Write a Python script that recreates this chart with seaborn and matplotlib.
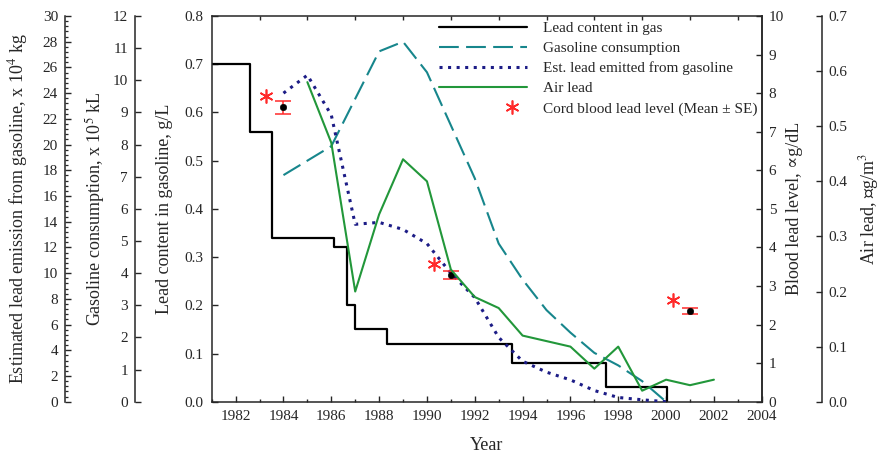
import matplotlib
matplotlib.use("Agg")
import matplotlib.pyplot as plt
import seaborn as sns
from matplotlib.lines import Line2D
from matplotlib.legend_handler import HandlerLine2D
from matplotlib.ticker import MultipleLocator, NullFormatter, FormatStrFormatter
from matplotlib.transforms import offset_copy

# --- Data ---
step_years = [1981, 1982.6, 1983.5, 1986.1, 1986.65, 1987.0, 1988.35, 1993.55, 1997.5, 2000.05]
lead_content = [0.70, 0.56, 0.34, 0.32, 0.20, 0.15, 0.12, 0.08, 0.03, 0.00]

gas_years = [1984, 1986, 1988, 1989, 1990, 1991, 1992, 1993, 1994, 1995, 1996, 1997, 1998, 1999, 2000]
gas_consumption = [7.05, 7.95, 10.9, 11.2, 10.25, 8.6, 6.95, 4.92, 3.8, 2.85, 2.15, 1.52, 1.13, 0.64, 0.0]

emis_years = list(range(1984, 2001))
lead_emission = [24.0, 25.4, 22.3, 13.8, 13.95, 13.4, 12.3, 10.0, 8.1, 5.0, 3.15,
                 2.3, 1.7, 0.87, 0.33, 0.15, 0.0]

air_years = list(range(1985, 2003))
air_lead = [0.58, 0.47, 0.20, 0.34, 0.44, 0.40, 0.24, 0.19, 0.17, 0.12, 0.11,
            0.10, 0.06, 0.10, 0.02, 0.04, 0.03, 0.04]

blood_years = [1984, 1991, 2001]
blood_mean = [7.63, 3.28, 2.35]
blood_se = [0.17, 0.10, 0.085]

BLACK, TEAL, NAVY, GREEN, RED = "black", "#17868c", "#1c1c86", "#22973a", "#ff2a2a"

sns.set_theme(style="ticks", rc={"axes.linewidth": 1.1, "mathtext.fontset": "stix"})
plt.rcParams["font.family"] = ["Liberation Serif", "DejaVu Serif"]

fig = plt.figure(figsize=(8.8, 4.55), dpi=100)
ax = fig.add_axes([0.2406, 0.1171, 0.625, 0.8477])

ax_gas = ax.twinx()
ax_emis = ax.twinx()
ax_blood = ax.twinx()
ax_air = ax.twinx()

# left-hand stacked axes
for a, pos in [(ax_gas, -0.1395), (ax_emis, -0.2667)]:
    a.yaxis.set_ticks_position("left")
    a.yaxis.set_label_position("left")
    a.spines["left"].set_position(("axes", pos))
    a.spines["left"].set_visible(True)
    for s in ["right", "top", "bottom"]:
        a.spines[s].set_visible(False)
for a in [ax_blood, ax_air]:
    for s in ["left", "top", "bottom"]:
        a.spines[s].set_visible(False)
ax_air.spines["right"].set_position(("axes", 1.109))

# --- lines ---
sns.lineplot(x=step_years, y=lead_content, ax=ax, color=BLACK, lw=1.6,
             drawstyle="steps-post", label="Lead content in gas", legend=False)
sns.lineplot(x=gas_years, y=gas_consumption, ax=ax_gas, color=TEAL, lw=1.5,
             linestyle=(0, (9.5, 3.5)), label="Gasoline consumption", legend=False)
sns.lineplot(x=emis_years, y=lead_emission, ax=ax_emis, color=NAVY, lw=2.2,
             linestyle=(0, (1, 1.8)), label="Est. lead emitted from gasoline", legend=False)
sns.lineplot(x=air_years, y=air_lead, ax=ax_air, color=GREEN, lw=1.5,
             label="Air lead", legend=False)

ax_blood.errorbar(blood_years, blood_mean, yerr=blood_se, fmt="none", ecolor=RED,
                  elinewidth=1.1, capsize=6, capthick=1.1)
sns.scatterplot(x=blood_years, y=blood_mean, ax=ax_blood, color="black", s=22,
                edgecolor="black", zorder=5, legend=False)
star_trans = offset_copy(ax_blood.transData, fig=fig, x=-17, y=11, units="dots")
ax_blood.plot(blood_years, blood_mean, ls="none", marker=(6, 2, 0), ms=10, mew=1.2,
              color=RED, transform=star_trans)

# --- scales ---
ax.set_xlim(1981, 2004)
ax.set_ylim(0, 0.8)
ax_gas.set_ylim(0, 12)
ax_emis.set_ylim(0, 30)
ax_blood.set_ylim(0, 10)
ax_air.set_ylim(0, 0.7)

ax.xaxis.set_major_locator(MultipleLocator(2))
ax.xaxis.set_minor_locator(MultipleLocator(1))
ax.yaxis.set_major_locator(MultipleLocator(0.1))
ax.yaxis.set_major_formatter(FormatStrFormatter("%.1f"))
ax_gas.yaxis.set_major_locator(MultipleLocator(1))
ax_emis.yaxis.set_major_locator(MultipleLocator(2))
ax_emis.yaxis.set_minor_locator(MultipleLocator(0.4))
ax_blood.yaxis.set_major_locator(MultipleLocator(1))
ax_air.yaxis.set_major_locator(MultipleLocator(0.1))
ax_air.yaxis.set_major_formatter(FormatStrFormatter("%.1f"))

top = ax.secondary_xaxis("top")
top.set_xticks(range(1983, 2004, 2))
top.xaxis.set_major_formatter(NullFormatter())
top.tick_params(direction="in", length=3, width=1)
top.spines["top"].set_visible(False)

ax.tick_params(axis="x", which="major", direction="in", length=4, width=1,
               labelsize=11, pad=6, top=False)
ax.tick_params(axis="x", which="minor", direction="in", length=2.5, width=1, top=False)
ax.tick_params(axis="y", direction="in", length=4, width=1, labelsize=11, pad=6, right=False)
for a in [ax_gas, ax_emis, ax_blood, ax_air]:
    a.tick_params(axis="y", which="major", direction="in", length=4, width=1,
                  labelsize=11, pad=5)
ax_emis.tick_params(axis="y", which="minor", direction="in", length=2.5, width=0.9)

# --- labels ---
lab = dict(fontsize=13)
ax.set_xlabel("Year", **lab, labelpad=10)
ax.set_ylabel("Lead content in gasoline, g/L", **lab)
ax_gas.set_ylabel("Gasoline consumption, x 10$^5$ kL", **lab)
ax_emis.set_ylabel("Estimated lead emission from gasoline, x 10$^4$ kg", **lab)
ax_blood.set_ylabel("Blood lead level, \u221dg/dL", **lab)
ax_air.set_ylabel("Air lead, \u221dg/m$^3$", **lab)
ax.yaxis.set_label_coords(-0.07, 0.5)
ax_gas.yaxis.set_label_coords(-0.19, 0.5)
ax_emis.yaxis.set_label_coords(-0.33, 0.5)
ax_blood.yaxis.set_label_coords(1.045, 0.5)
ax_air.yaxis.set_label_coords(1.174, 0.5)

# --- legend ---
class EndMarkerHandler(HandlerLine2D):
    # put the single legend marker near the right end of the handle
    def get_xdata(self, legend, xdescent, ydescent, width, height, fontsize):
        return [-xdescent + 0.66 * width, -xdescent + width], [-xdescent + 0.83 * width]

handles = [ax.get_lines()[0], ax_gas.get_lines()[0], ax_emis.get_lines()[0], ax_air.get_lines()[0]]
star = Line2D([], [], ls="none", marker=(6, 2, 0), ms=10, mew=1.2, color=RED,
              label="Cord blood lead level (Mean \u00b1 SE)")
handles.append(star)
ax_air.legend(handles=handles, labels=[h.get_label() for h in handles],
              loc="upper left", bbox_to_anchor=(0.413, 0.985), frameon=False,
              fontsize=11, handlelength=5.8, handletextpad=1.0, labelspacing=0.41,
              borderpad=0, borderaxespad=0, handler_map={star: EndMarkerHandler()})

fig.savefig("out.png", dpi=100)
